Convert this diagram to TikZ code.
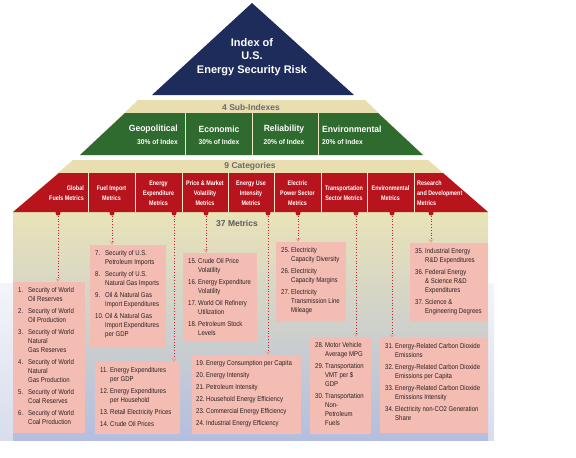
\documentclass[tikz,border=0pt]{standalone}
\usepackage{fontspec}
\setmainfont{Liberation Sans}
\newfontfamily\metfont{Liberation Sans}[FakeStretch=0.86]
\newfontfamily\catfont{Liberation Sans}[FakeStretch=0.82]
\newfontfamily\grfont{Liberation Sans}[FakeStretch=0.95]
\usetikzlibrary{arrows.meta}
\definecolor{navyc}{HTML}{1E2C5C}
\definecolor{greenc}{HTML}{2F6A2F}
\definecolor{redc}{HTML}{B8141E}
\definecolor{tanc}{HTML}{E8DEB0}
\definecolor{pinkc}{HTML}{F4BDB4}
\definecolor{bgtop}{HTML}{E9E3B8}
\definecolor{bgmid}{HTML}{E4E6E0}
\definecolor{bgbot}{HTML}{B4BEE0}
\definecolor{stripc}{HTML}{D8DDEC}
\definecolor{grayc}{HTML}{6A6A70}
\definecolor{txtc}{HTML}{2A2020}
\definecolor{tipc}{HTML}{E9A690}
\definecolor{dotlc}{HTML}{C8202A}
\begin{document}
\begin{tikzpicture}[x=1pt,y=-1pt,
  mbox/.style={fill=pinkc, inner sep=0pt, anchor=north west},
  mtext/.style={anchor=north west, inner sep=0pt, text=txtc,
    font=\metfont\fontsize{7}{9}\selectfont},
  catlbl/.style={inner sep=0pt, text=white,
    font=\catfont\bfseries\fontsize{6.6}{10}\selectfont},
  gtitle/.style={inner sep=0pt, text=white, font=\grfont\bfseries\fontsize{9}{10}\selectfont},
  gpct/.style={inner sep=0pt, text=white, font=\grfont\bfseries\fontsize{7}{8}\selectfont},
  bandlbl/.style={inner sep=0pt, text=grayc, font=\bfseries\fontsize{8.5}{10}\selectfont},
  dotnode/.style={circle, fill=redc, inner sep=0pt, minimum size=5pt},
  conn/.style={dotlc, dotted, line width=0.8pt, -{Stealth[length=4pt,width=5pt,color=tipc]}},
  divline/.style={line width=0.6pt}
]
\useasboundingbox (0,0) rectangle (576,458);

% apex triangle
\fill[navyc] (152,95) -- (252,3) -- (354,95) -- cycle;
\node[inner sep=0pt, text=white, align=center, font=\bfseries\fontsize{11}{13.5}\selectfont] (idx) at (252,57) {Index of\\U.S.\\Energy Security Risk};

% sub-index band
\fill[tanc] (138,100) -- (365,100) -- (423,155) -- (80,155) -- cycle;
\fill[greenc] (125,113) -- (378,113) -- (423,155) -- (80,155) -- cycle;
\foreach \x in {185,252,318} \draw[divline, draw=tanc!70!white] (\x,113) -- (\x,155);
\node[bandlbl] (sub) at (251,107) {4 Sub-Indexes};
\node[gtitle, anchor=east] (g1) at (178,129) {Geopolitical};
\node[gpct, anchor=east] (p1) at (178,142) {30\% of Index};
\node[gtitle] (g2) at (219,129) {Economic};
\node[gpct] (p2) at (219,142) {30\% of Index};
\node[gtitle] (g3) at (284,129) {Reliability};
\node[gpct] (p3) at (284,142) {20\% of Index};
\node[gtitle, anchor=west] (g4) at (322,129) {Environmental};
\node[gpct, anchor=west] (p4) at (322,142) {20\% of Index};

% background of metrics
\shade[top color=stripc!30!white, bottom color=stripc] (0,283) rectangle (13,440);
\shade[top color=stripc!30!white, bottom color=stripc] (488,283) rectangle (494,440);
\shade[top color=bgtop, middle color=bgmid, bottom color=bgbot] (13,212) rectangle (488,440);

% categories band
\fill[tanc] (73,160) -- (428,160) -- (488,212) -- (13,212) -- cycle;
\fill[redc] (59,173) -- (443,173) -- (488,212) -- (13,212) -- cycle;
\foreach \x in {88,135,182,228,274,321,367,414} \draw[divline, draw=tanc!60!white] (\x,173) -- (\x,212);
\node[bandlbl] (cats) at (250,166) {9 Categories};
\node[catlbl, align=right, anchor=east] (k1) at (84,193) {Global\\Fuels Metrics};
\node[catlbl, align=center] (k2) at (111.5,193) {Fuel Import\\Metrics};
\node[catlbl, align=center] (k3) at (158.5,193) {Energy\\Expenditure\\Metrics};
\node[catlbl, align=center] (k4) at (205,193) {Price \& Market\\Volatility\\Metrics};
\node[catlbl, align=center] (k5) at (251,193) {Energy Use\\Intensity\\Metrics};
\node[catlbl, align=center] (k6) at (297.5,193) {Electric\\Power Sector\\Metrics};
\node[catlbl, align=center] (k7) at (344,193) {Transportation\\Sector Metrics};
\node[catlbl, align=center] (k8) at (390.5,193) {Environmental\\Metrics};
\node[catlbl, align=left, anchor=west] (k9) at (417,193) {Research\\and Development\\Metrics};

\node[bandlbl, text=grayc!85!black] (mets) at (237,223) {37 Metrics};

% metric boxes
\node[mbox, minimum width=72pt, minimum height=151pt] (b1) at (13,282) {};
\node[mbox, minimum width=76pt, minimum height=102pt] (b2) at (90,245) {};
\node[mbox, minimum width=85pt, minimum height=72pt] (b3) at (95,362) {};
\node[mbox, minimum width=74pt, minimum height=89pt] (b4) at (183,253) {};
\node[mbox, minimum width=109pt, minimum height=79pt] (b5) at (192,355) {};
\node[mbox, minimum width=70pt, minimum height=80pt] (b6) at (276,242) {};
\node[mbox, minimum width=61pt, minimum height=97pt] (b7) at (310,337) {};
\node[mbox, minimum width=108pt, minimum height=95pt] (b8) at (380,338) {};
\node[mbox, minimum width=78pt, minimum height=79pt] (b9) at (410,243) {};

\node[mtext] (t1) at ([xshift=5pt,yshift=-4pt]b1.north west) {\begin{tabular}{@{}p{10pt}@{}l@{}}
1. & Security of World\\ & Oil Reserves\\[3pt]
2. & Security of World\\ & Oil Production\\[3pt]
3. & Security of World\\ & Natural\\ & Gas Reserves\\[3pt]
4. & Security of World\\ & Natural\\ & Gas Production\\[3pt]
5. & Security of World\\ & Coal Reserves\\[3pt]
6. & Security of World\\ & Coal Production
\end{tabular}};
\node[mtext] (t2) at ([xshift=5pt,yshift=-4pt]b2.north west) {\begin{tabular}{@{}p{10pt}@{}l@{}}
7. & Security of U.S.\\ & Petroleum Imports\\[3pt]
8. & Security of U.S.\\ & Natural Gas Imports\\[3pt]
9. & Oil \& Natural Gas\\ & Import Expenditures\\[3pt]
10. & Oil \& Natural Gas\\ & Import Expenditures\\ & per GDP
\end{tabular}};
\node[mtext] (t3) at ([xshift=5pt,yshift=-4pt]b3.north west) {\begin{tabular}{@{}p{10pt}@{}l@{}}
11. & Energy Expenditures\\ & per GDP\\[3pt]
12. & Energy Expenditures\\ & per Household\\[3pt]
13. & Retail Electricity Prices\\[3pt]
14. & Crude Oil Prices
\end{tabular}};
\node[mtext] (t4) at ([xshift=5pt,yshift=-4pt]b4.north west) {\begin{tabular}{@{}p{10pt}@{}l@{}}
15. & Crude Oil Price\\ & Volatility\\[3pt]
16. & Energy Expenditure\\ & Volatility\\[3pt]
17. & World Oil Refinery\\ & Utilization\\[3pt]
18. & Petroleum Stock\\ & Levels
\end{tabular}};
\node[mtext] (t5) at ([xshift=4pt,yshift=-4pt]b5.north west) {\begin{tabular}{@{}p{10pt}@{}l@{}}
19. & Energy Consumption per Capita\\[3pt]
20. & Energy Intensity\\[3pt]
21. & Petroleum Intensity\\[3pt]
22. & Household Energy Efficiency\\[3pt]
23. & Commercial Energy Efficiency\\[3pt]
24. & Industrial Energy Efficiency
\end{tabular}};
\node[mtext] (t6) at ([xshift=5pt,yshift=-4pt]b6.north west) {\begin{tabular}{@{}p{10pt}@{}l@{}}
25. & Electricity\\ & Capacity Diversity\\[3pt]
26. & Electricity\\ & Capacity Margins\\[3pt]
27. & Electricity\\ & Transmission Line\\ & Mileage
\end{tabular}};
\node[mtext] (t7) at ([xshift=5pt,yshift=-4pt]b7.north west) {\begin{tabular}{@{}p{10pt}@{}l@{}}
28. & Motor Vehicle\\ & Average MPG\\[3pt]
29. & Transportation\\ & VMT per \$\\ & GDP\\[3pt]
30. & Transportation\\ & Non-\\ & Petroleum\\ & Fuels
\end{tabular}};
\node[mtext] (t8) at ([xshift=5pt,yshift=-4pt]b8.north west) {\begin{tabular}{@{}p{10pt}@{}l@{}}
31. & Energy-Related Carbon Dioxide\\ & Emissions\\[3pt]
32. & Energy-Related Carbon Dioxide\\ & Emissions per Capita\\[3pt]
33. & Energy-Related Carbon Dioxide\\ & Emissions Intensity\\[3pt]
34. & Electricity non-CO2 Generation\\ & Share
\end{tabular}};
\node[mtext] (t9) at ([xshift=5pt,yshift=-4pt]b9.north west) {\begin{tabular}{@{}p{10pt}@{}l@{}}
35. & Industrial Energy\\ & R\&D Expenditures\\[3pt]
36. & Federal Energy\\ & \& Science R\&D\\ & Expenditures\\[3pt]
37. & Science \&\\ & Engineering Degrees
\end{tabular}};

% dots and connectors
\node[dotnode] (d1) at (58,213) {};
\node[dotnode] (d2) at (112,213) {};
\node[dotnode] (d3) at (174,213) {};
\node[dotnode] (d4) at (206,213) {};
\node[dotnode] (d5) at (268,213) {};
\node[dotnode] (d6) at (298,213) {};
\node[dotnode] (d7) at (356,213) {};
\node[dotnode] (d8) at (392,213) {};
\node[dotnode] (d9) at (431,213) {};
\draw[conn] (d1) -- (d1 |- b1.north);
\draw[conn] (d2) -- (d2 |- b2.north);
\draw[conn] (d3) -- (d3 |- b3.north);
\draw[conn] (d4) -- (d4 |- b4.north);
\draw[conn] (d5) -- (d5 |- b5.north);
\draw[conn] (d6) -- (d6 |- b6.north);
\draw[conn] (d7) -- (d7 |- b7.north);
\draw[conn] (d8) -- (d8 |- b8.north);
\draw[conn] (d9) -- (d9 |- b9.north);
\end{tikzpicture}
\end{document}
